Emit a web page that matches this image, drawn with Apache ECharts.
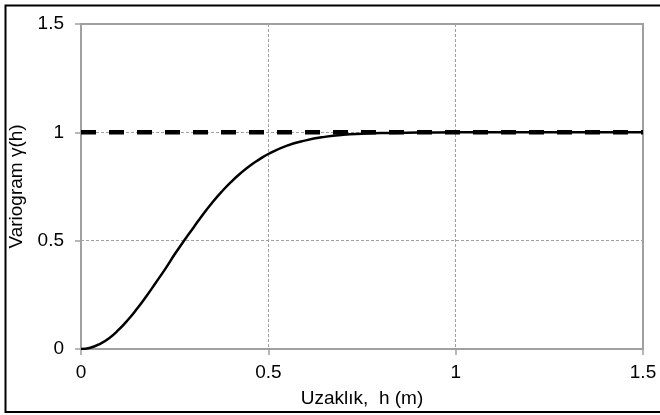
<!DOCTYPE html>
<html>
<head>
<meta charset="utf-8">
<script src="https://cdn.jsdelivr.net/npm/echarts@6/dist/echarts.min.js"></script>
<style>
  html, body { margin: 0; padding: 0; background: #fff; }
  #chart { width: 660px; height: 415px; }
</style>
</head>
<body>
<div id="chart"></div>
<script>
// Lag distance h (m) and the fitted variogram value at each lag
const lagH = [0, 0.025, 0.05, 0.075, 0.1, 0.125, 0.15, 0.175, 0.2, 0.225, 0.25,
  0.275, 0.3, 0.325, 0.35, 0.375, 0.4, 0.425, 0.45, 0.475, 0.5, 0.55, 0.6,
  0.65, 0.7, 0.75, 0.8, 0.9, 1.0, 1.1, 1.2, 1.3, 1.4, 1.5];
const gammaH = [0, 0.006, 0.023, 0.05, 0.088, 0.134, 0.187, 0.245, 0.307, 0.37, 0.437,
  0.5, 0.56, 0.62, 0.675, 0.725, 0.77, 0.81, 0.845, 0.874, 0.9, 0.939, 0.963,
  0.979, 0.989, 0.994, 0.997, 0.999, 1.0, 1.0, 1.0, 1.0, 1.0, 1.0];

// Sill level
const sillH = [0, 1.5];
const sillGamma = [1, 1];

// Axis ticks
const xTicks = [0, 0.5, 1, 1.5];
const yTicks = [0, 0.5, 1, 1.5];

const xTitle = 'Uzaklık,  h (m)';
const yTitle = 'Variogram γ(h)';

const curveData = lagH.map((h, i) => [h, gammaH[i]]);
const sillData = sillH.map((h, i) => [h, sillGamma[i]]);

const axisGrey = '#a0a0a0';
const font = '"Liberation Sans", Arial, sans-serif';

const chart = echarts.init(document.getElementById('chart'), null, { renderer: 'canvas' });
chart.setOption({
  animation: false,
  backgroundColor: '#fff',
  graphic: [{
    type: 'rect',
    shape: { x: 5.5, y: 5.5, width: 670, height: 406.5 },
    style: { fill: 'none', stroke: '#000', lineWidth: 2 },
    silent: true,
    z: 100
  }],
  grid: {
    left: 81, right: 17, top: 24, bottom: 66,
    outerBoundsMode: 'none',
    containLabel: false,
    show: true, borderColor: axisGrey, borderWidth: 2, backgroundColor: '#fff'
  },
  xAxis: {
    type: 'value',
    min: xTicks[0], max: xTicks[xTicks.length - 1], interval: 0.5,
    name: xTitle, nameLocation: 'middle', nameGap: 40,
    nameTextStyle: { fontFamily: font, fontSize: 19, color: '#000' },
    axisLine: { show: true, onZero: false, lineStyle: { color: axisGrey, width: 2 } },
    axisTick: { show: true, length: 6, lineStyle: { color: axisGrey, width: 1.5 } },
    axisLabel: {
      fontFamily: font, fontSize: 19, color: '#000', margin: 14,
      formatter: v => xTicks.includes(v) ? String(v) : ''
    },
    splitLine: {
      show: true,
      lineStyle: { color: axisGrey, width: 1, type: [3, 2] }
    }
  },
  yAxis: {
    type: 'value',
    min: yTicks[0], max: yTicks[yTicks.length - 1], interval: 0.5,
    name: yTitle, nameLocation: 'middle', nameGap: 48, nameRotate: 90,
    nameTextStyle: { fontFamily: font, fontSize: 19, color: '#000' },
    axisLine: { show: true, lineStyle: { color: axisGrey, width: 2 } },
    axisTick: { show: true, length: 6, lineStyle: { color: axisGrey, width: 1.5 } },
    axisLabel: {
      fontFamily: font, fontSize: 19, color: '#000', margin: 17,
      formatter: v => yTicks.includes(v) ? String(v) : ''
    },
    splitLine: {
      show: true,
      lineStyle: { color: axisGrey, width: 1, type: [3, 2] }
    }
  },
  series: [
    {
      type: 'line',
      data: sillData,
      showSymbol: false,
      lineStyle: { color: '#000', width: 4.5, type: [15, 13], cap: 'butt' },
      z: 3
    },
    {
      type: 'line',
      data: curveData,
      smooth: true,
      showSymbol: false,
      lineStyle: { color: '#000', width: 2.5 },
      z: 4
    }
  ]
});
</script>
</body>
</html>
